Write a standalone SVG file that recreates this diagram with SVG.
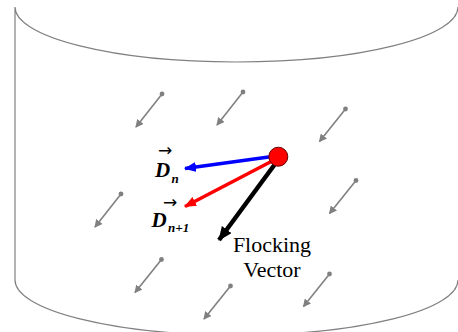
<svg xmlns="http://www.w3.org/2000/svg" width="458" height="332" viewBox="0 0 458 332">
<defs>
<style>
.cyl{fill:none;stroke:#808080;stroke-width:1.2}
.g{stroke:#808080;stroke-width:1.6;fill:none}
.dot{fill:#808080}
.lbl{font-weight:bold;font-style:italic;fill:#000}
.acc{fill:#000;font-size:17px}
.txt{font-size:22px;fill:#000;text-anchor:middle}
</style>
<marker id="ag" markerWidth="8" markerHeight="8" refX="7" refY="4" orient="auto" markerUnits="userSpaceOnUse" viewBox="0 0 8 8"><path d="M0,0 L8,4 L0,8 Z" fill="#808080"/></marker>
<marker id="ab" markerWidth="12" markerHeight="10" refX="11" refY="5" orient="auto" markerUnits="userSpaceOnUse" viewBox="0 0 12 10"><path d="M0,0 L12,5 L0,10 Z" fill="#0000ff"/></marker>
<marker id="ar" markerWidth="12" markerHeight="10" refX="11" refY="5" orient="auto" markerUnits="userSpaceOnUse" viewBox="0 0 12 10"><path d="M0,0 L12,5 L0,10 Z" fill="#ff0000"/></marker>
<marker id="ak" markerWidth="14" markerHeight="12" refX="13" refY="6" orient="auto" markerUnits="userSpaceOnUse" viewBox="0 0 14 12"><path d="M0,0 L14,6 L0,12 Z" fill="#000"/></marker>
</defs>
<g id="cylinder">
<path class="cyl" d="M15,280 L15,7 A221.5,55 0 0 0 458,7"/>
<path class="cyl" d="M15,280 A221.5,55 0 0 0 458,280"/>
</g>
<g id="connectors">
<line class="g" x1="162" y1="94" x2="136" y2="127" marker-end="url(#ag)"/>
<line class="g" x1="243" y1="92" x2="217" y2="125" marker-end="url(#ag)"/>
<line class="g" x1="345.5" y1="109" x2="319.5" y2="141.5" marker-end="url(#ag)"/>
<line class="g" x1="356" y1="180.5" x2="329.5" y2="213.5" marker-end="url(#ag)"/>
<line class="g" x1="121" y1="194" x2="95" y2="227" marker-end="url(#ag)"/>
<line class="g" x1="161.5" y1="259.5" x2="135" y2="292.5" marker-end="url(#ag)"/>
<line class="g" x1="230.5" y1="286" x2="204" y2="319" marker-end="url(#ag)"/>
<line class="g" x1="329.5" y1="274" x2="303.5" y2="306.5" marker-end="url(#ag)"/>
<line x1="276" y1="156" x2="185" y2="168.5" stroke="#0000ff" stroke-width="3.5" marker-end="url(#ab)"/>
<line x1="276" y1="159" x2="185" y2="206.5" stroke="#ff0000" stroke-width="3.5" marker-end="url(#ar)"/>
<line x1="278" y1="160" x2="219" y2="240" stroke="#000" stroke-width="4.5" marker-end="url(#ak)"/>
</g>
<g id="dots">
<circle class="dot" cx="162" cy="94" r="2.4"/>
<circle class="dot" cx="243" cy="92" r="2.4"/>
<circle class="dot" cx="345.5" cy="109" r="2.4"/>
<circle class="dot" cx="356" cy="180.5" r="2.4"/>
<circle class="dot" cx="121" cy="194" r="2.4"/>
<circle class="dot" cx="161.5" cy="259.5" r="2.4"/>
<circle class="dot" cx="230.5" cy="286" r="2.4"/>
<circle class="dot" cx="329.5" cy="274" r="2.4"/>
</g>
<g id="agent">
<circle cx="278.3" cy="156.7" r="9.5" fill="#ff0000" stroke="#600" stroke-width="1"/>
</g>
<g id="label-dn">
<text class="acc" x="158" y="155.5" font-family="'DejaVu Sans', sans-serif">→</text>
<text class="lbl" x="155" y="177" font-size="21" font-family="'Liberation Serif', 'DejaVu Serif', serif">D</text>
<text class="lbl" x="171.5" y="183" font-size="13" font-family="'Liberation Serif', 'DejaVu Serif', serif">n</text>
</g>
<g id="label-dn1">
<text class="acc" x="163" y="207.5" font-family="'DejaVu Sans', sans-serif">→</text>
<text class="lbl" x="151.5" y="227" font-size="21" font-family="'Liberation Serif', 'DejaVu Serif', serif">D</text>
<text class="lbl" x="168" y="232" font-size="13" font-family="'Liberation Serif', 'DejaVu Serif', serif">n+1</text>
</g>
<g id="label-flocking">
<text class="txt" x="272" y="251.5" font-family="'Liberation Serif', 'DejaVu Serif', serif">Flocking</text>
<text class="txt" x="272" y="276.5" font-family="'Liberation Serif', 'DejaVu Serif', serif">Vector</text>
</g>
</svg>
